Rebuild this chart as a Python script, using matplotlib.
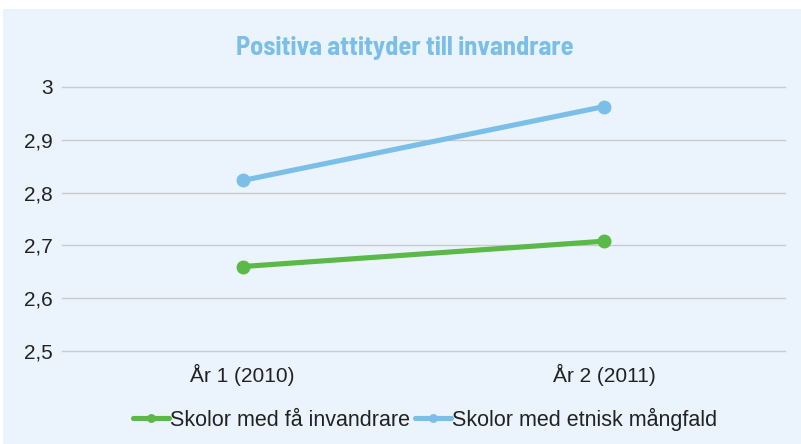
import matplotlib
matplotlib.use("Agg")
import matplotlib.pyplot as plt

categories = ["År 1 (2010)", "År 2 (2011)"]
series_names = ["Skolor med få invandrare", "Skolor med etnisk mångfald"]
few_immigrants = [2.66, 2.708]
diverse = [2.823, 2.963]
yticks = [2.5, 2.6, 2.7, 2.8, 2.9, 3.0]
ytick_labels = ["2,5", "2,6", "2,7", "2,8", "2,9", "3"]

GREEN = "#5ab947"
BLUE = "#7bbfe9"
BG = "#ebf4fc"
GRID = "#c9cbcd"
TEXT = "#222222"

plt.rcParams["font.family"] = ["Liberation Sans", "DejaVu Sans"]

fig = plt.figure(figsize=(8.01, 4.44), dpi=100)
# panel background, with a white strip above it
fig.patches.append(plt.Rectangle((3 / 801, 0), 1, 1 - 9 / 444, transform=fig.transFigure,
                                 facecolor=BG, edgecolor="none", zorder=-10))

ax = fig.add_axes([62 / 801, 1 - 351 / 444, (785 - 62) / 801, (351 - 87) / 444])
ax.set_facecolor("none")
x = [0, 1]
ax.plot(x, few_immigrants, color=GREEN, lw=3.7, marker="o", ms=9, solid_capstyle="round",
        label=series_names[0])
ax.plot(x, diverse, color=BLUE, lw=3.7, marker="o", ms=9, solid_capstyle="round",
        label=series_names[1])

ax.set_xlim(-0.5, 1.5)
ax.set_ylim(2.5, 3.0)
ax.set_yticks(yticks)
ax.set_yticklabels(ytick_labels)
ax.set_xticks(x)
ax.set_xticklabels(categories)
ax.tick_params(length=0, labelsize=15, colors=TEXT)
ax.tick_params(axis="x", pad=9.5)
ax.tick_params(axis="y", pad=6.5)
ax.yaxis.grid(True, color=GRID, lw=1)
for gl in ax.get_ygridlines():
    gl.set_clip_on(False)
ax.set_axisbelow(True)
for s in ax.spines.values():
    s.set_visible(False)

fig.text(405 / 801, 1 - 48 / 444, "Positiva attityder till invandrare", ha="center",
         va="center", fontsize=19, fontweight="bold", color=BLUE,
         family=["Barlow Semi Condensed", "DejaVu Sans"])

leg = fig.legend(loc="center", bbox_to_anchor=(425 / 801, 1 - 419 / 444), ncol=2,
                 frameon=False, fontsize=15.5, handlelength=1.7, handletextpad=0.05,
                 columnspacing=0.2, markerscale=0.6)
for t in leg.get_texts():
    t.set_color(TEXT)

fig.savefig("out.png", dpi=100)
